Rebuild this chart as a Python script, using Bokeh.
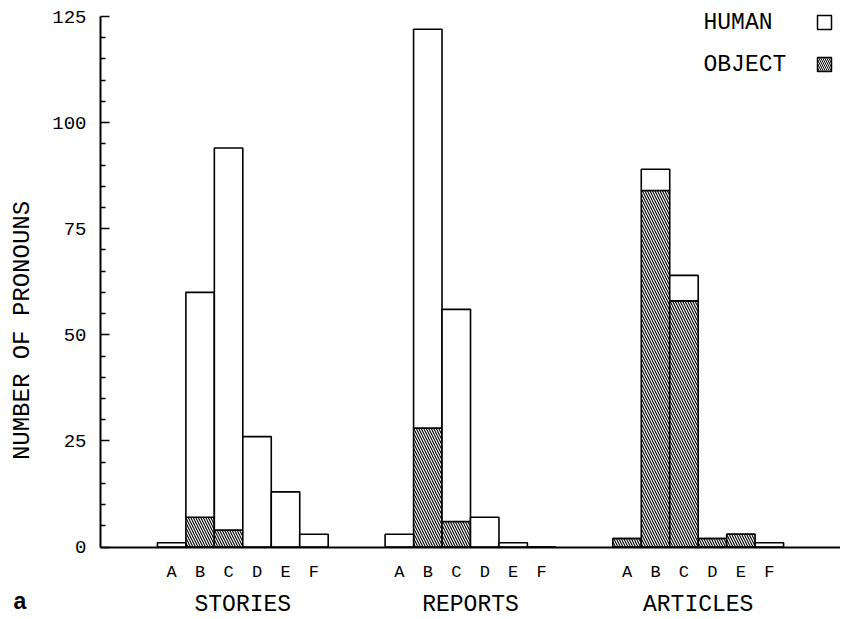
import math
from bokeh.plotting import figure
from bokeh.models import FixedTicker, LinearAxis, Range1d
from bokeh.core.properties import value
from bokeh.embed import file_html
from bokeh.resources import INLINE

# ---- data ----
categories = ["A", "B", "C", "D", "E", "F"]
groups = ["STORIES", "REPORTS", "ARTICLES"]
total_stories = [1, 60, 94, 26, 13, 3]
object_stories = [0, 7, 4, 0, 0, 0]
total_reports = [3, 122, 56, 7, 1, 0]
object_reports = [0, 28, 6, 0, 0, 0]
total_articles = [2, 89, 64, 2, 3, 1]
object_articles = [2, 84, 58, 2, 3, 0]
y_ticks = [0, 25, 50, 75, 100, 125]
y_minor = [5, 10, 15, 20, 30, 35, 40, 45, 55, 60, 65, 70, 80, 85, 90, 95, 105, 110, 115, 120]
legend_labels = ["HUMAN", "OBJECT"]
y_title = "NUMBER OF PRONOUNS"
panel_tag = "a"

totals = [total_stories, total_reports, total_articles]
objects = [object_stories, object_reports, object_articles]

FONT = "Liberation Mono"
GROUP_STEP = 8
OFFSET = 2.5
X_END = 26
Y_TOP = 125

# layout geometry (pixels)
W, H = 840, 619
FRAME_LEFT = 100          # pixel where x=0 sits
BASE_Y = 546.5            # pixel where y=0 sits
TOP_Y = 16                # pixel where y=125 sits
xs_scale = (W - FRAME_LEFT) / X_END
ys_scale = (BASE_Y - TOP_Y) / Y_TOP

def px_to_x(px):
    return (px - FRAME_LEFT) / xs_scale

def px_to_y(py):
    return (BASE_Y - py) / ys_scale

xs, tops, objs, letters = [], [], [], []
for gi, g in enumerate(groups):
    for ci, c in enumerate(categories):
        xs.append(gi * GROUP_STEP + ci + OFFSET)
        tops.append(totals[gi][ci])
        objs.append(objects[gi][ci])
        letters.append(c)
group_x = [gi * GROUP_STEP + OFFSET + len(categories) / 2 - 0.5 for gi in range(len(groups))]

p = figure(width=W, height=H, output_backend="svg", toolbar_location=None,
           x_range=Range1d(px_to_x(0), px_to_x(W)), y_range=Range1d(px_to_y(H), px_to_y(0)),
           min_border=0, x_axis_type=None, y_axis_type=None)
p.outline_line_color = None
p.background_fill_color = "white"
p.border_fill_color = "white"
p.xgrid.visible = False
p.ygrid.visible = False

# object (hatched) part
p.vbar(x=xs, bottom=0, top=objs, width=1, fill_color="white", line_color="black",
       line_width=1.6, hatch_pattern="\\", hatch_color="black", hatch_scale=5, hatch_weight=1.1)
# human part
p.vbar(x=xs, bottom=objs, top=tops, width=1, fill_color="white", line_color="black",
       line_width=1.6)

# y axis (fixed at x = 0)
yax = LinearAxis(ticker=FixedTicker(ticks=y_ticks, minor_ticks=y_minor), bounds=(0, Y_TOP),
                 fixed_location=0)
yax.axis_line_width = 2
yax.major_tick_in = 9
yax.major_tick_out = 0
yax.minor_tick_in = 5
yax.minor_tick_out = 0
yax.major_tick_line_width = 1.5
yax.minor_tick_line_width = 1.5
yax.major_label_text_font = FONT
yax.major_label_text_font_size = "19px"
yax.major_label_text_color = "black"
yax.major_label_standoff = 14
p.add_layout(yax, "left")

# baseline (x axis fixed at y = 0)
xax = LinearAxis(ticker=FixedTicker(ticks=[]), bounds=(0, X_END), fixed_location=0)
xax.axis_line_width = 2
xax.major_tick_line_color = None
xax.minor_tick_line_color = None
xax.major_label_text_font_size = "0px"
p.add_layout(xax, "below")

# category letters and group names
p.text(x=xs, y=[px_to_y(572)] * len(xs), text=letters, text_font=value(FONT),
       text_font_size="17px", text_align="center", text_baseline="middle", text_color="black")
p.text(x=group_x, y=[px_to_y(604)] * len(group_x), text=groups, text_font=value(FONT),
       text_font_size="23px", text_align="center", text_baseline="middle", text_color="black")

# y title
p.text(x=[px_to_x(22)], y=[px_to_y(330)], text=[y_title], angle=math.pi / 2,
       text_font=value(FONT), text_font_size="24px", text_align="center",
       text_baseline="middle", text_color="black")

# legend (labels left, swatches right)
p.text(x=[px_to_x(703)] * 2, y=[px_to_y(22), px_to_y(64)], text=legend_labels,
       text_font=value(FONT), text_font_size="23px", text_align="left",
       text_baseline="middle", text_color="black")
p.rect(x=[px_to_x(824)], y=[px_to_y(22)], width=14, height=14, width_units="screen",
       height_units="screen", fill_color="white", line_color="black", line_width=1.5)
p.rect(x=[px_to_x(824)], y=[px_to_y(64)], width=14, height=14, width_units="screen",
       height_units="screen", fill_color="white", line_color="black", line_width=1.5,
       hatch_pattern="\\", hatch_color="black", hatch_scale=4, hatch_weight=1)

# panel letter
p.text(x=[px_to_x(13)], y=[px_to_y(600)], text=[panel_tag], text_font=value("Liberation Sans"),
       text_font_style="bold", text_font_size="23px", text_align="left",
       text_baseline="middle", text_color="black")

open("out.html", "w").write(file_html(p, INLINE))
